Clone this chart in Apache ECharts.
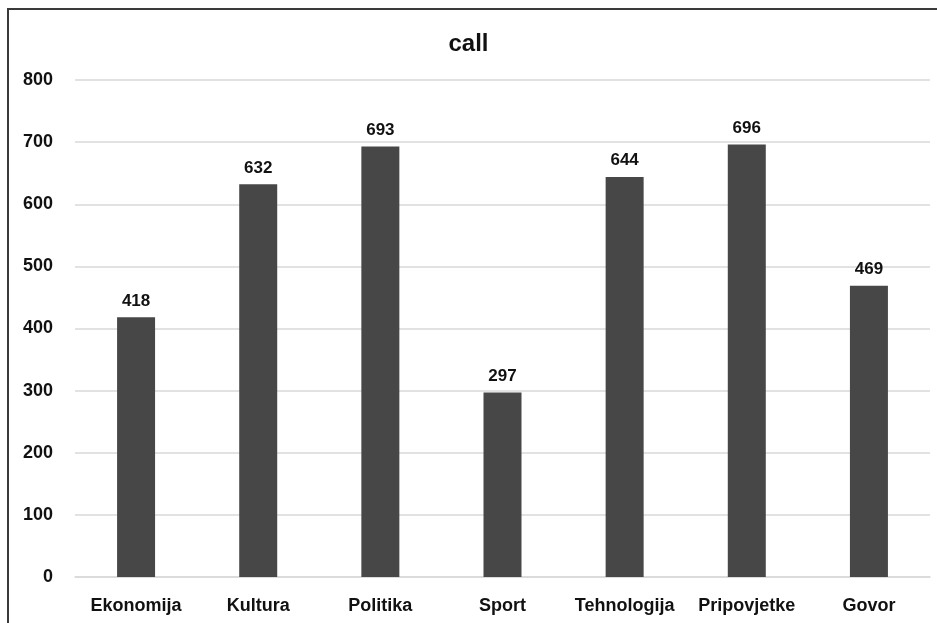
<!DOCTYPE html>
<html>
<head>
<meta charset="utf-8">
<script src="https://cdn.jsdelivr.net/npm/echarts@6/dist/echarts.min.js"></script>
<style>
  html, body { margin: 0; padding: 0; background: #fff; }
  #chart { width: 937px; height: 623px; }
</style>
</head>
<body>
<div id="chart"></div>
<script>
// Category names along the x axis
const categories = ['Ekonomija', 'Kultura', 'Politika', 'Sport', 'Tehnologija', 'Pripovjetke', 'Govor'];
// Counts per category
const values = [418, 632, 693, 297, 644, 696, 469];
// Value axis range
const yMin = 0;
const yMax = 800;
const yStep = 100;

const FONT = "'Liberation Sans', Arial, sans-serif";

const chart = echarts.init(document.getElementById('chart'));
chart.setOption({
  animation: false,
  backgroundColor: '#ffffff',
  title: {
    text: 'call',
    left: 'center',
    top: 27,
    textStyle: { fontFamily: FONT, fontWeight: 'bold', fontSize: 24, color: '#111' }
  },
  graphic: [{
    type: 'rect',
    shape: { x: 8, y: 9, width: 1000, height: 1000 },
    style: { fill: 'none', stroke: '#3a3a3a', lineWidth: 2 },
    silent: true,
    z: 100
  }],
  grid: { left: 75, right: 7, top: 80, bottom: 46, containLabel: false },
  xAxis: {
    type: 'category',
    data: categories,
    axisLine: { show: true, lineStyle: { color: '#d9d9d9', width: 1.5 } },
    axisTick: { show: false },
    axisLabel: { interval: 0, fontFamily: FONT, fontWeight: 'bold', fontSize: 18, color: '#111', margin: 20 }
  },
  yAxis: {
    type: 'value',
    min: yMin,
    max: yMax,
    interval: yStep,
    axisLine: { show: false },
    axisTick: { show: false },
    splitLine: { lineStyle: { color: '#d9d9d9', width: 1.5 } },
    axisLabel: { fontFamily: FONT, fontWeight: 'bold', fontSize: 18, color: '#111', margin: 22, align: 'right' }
  },
  series: [{
    type: 'bar',
    data: values,
    barWidth: 38,
    itemStyle: { color: '#474747' },
    label: {
      show: true,
      position: 'top',
      distance: 8,
      fontFamily: FONT,
      fontWeight: 'bold',
      fontSize: 17,
      color: '#111'
    }
  }]
});
</script>
</body>
</html>
